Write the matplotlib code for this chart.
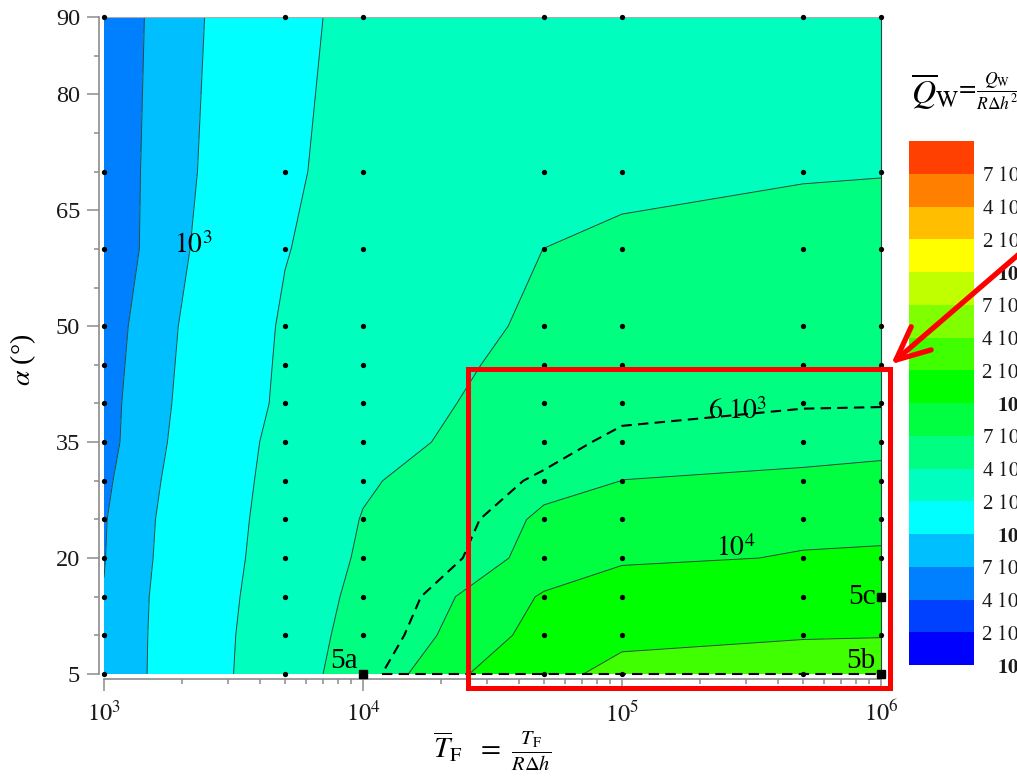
import matplotlib
matplotlib.use('Agg')
import matplotlib.pyplot as plt
from matplotlib.patches import Rectangle, FancyArrowPatch
import numpy as np

plt.rcParams['font.family'] = ['Liberation Serif', 'DejaVu Serif']
plt.rcParams['mathtext.fontset'] = 'stix'

# run grid: dimensionless fire duration and inclination
t_fire = np.array([1e3, 5e3, 1e4, 5e4, 1e5, 5e5, 1e6])
alpha = np.array([5, 10, 15, 20, 25, 30, 35, 40, 45, 50, 60, 70, 90])

# dimensionless wall heat Q_W / (R dh^2), one row per angle
q_wall = np.array([
    [708, 3020, 5370, 15500, 25700, 26900, 27500],   # 5
    [708, 2950, 4940, 11600, 16600, 19300, 19600],   # 10
    [708, 2820, 4630, 10400, 14800, 16600, 17000],   # 15
    [692, 2690, 4300, 7870, 9120, 10300, 10500],     # 20
    [684, 2600, 4090, 7410, 8130, 8910, 9020],       # 25
    [655, 2510, 3780, 6370, 7010, 7130, 7180],       # 30
    [621, 2420, 3430, 5150, 6610, 6760, 6840],       # 35
    [617, 2240, 3550, 4470, 5250, 5890, 5920],       # 40
    [603, 2190, 3390, 4370, 5010, 5500, 5620],       # 45
    [589, 2140, 3160, 4240, 4790, 5250, 5370],       # 50
    [546, 1950, 2690, 4010, 4580, 4900, 5010],       # 60
    [557, 1730, 2840, 3090, 3390, 3850, 3920],       # 70
    [551, 1610, 2510, 2820, 3020, 3160, 3310],       # 90
])

levels = [1e2, 2e2, 4e2, 7e2, 1e3, 2e3, 4e3, 7e3, 1e4, 2e4, 4e4, 7e4,
          1e5, 2e5, 4e5, 7e5, 1e6]
band_colors = ['#0000FF', '#0040FF', '#0080FF', '#00BFFF', '#00FFFF', '#00FFBF',
               '#00FF80', '#00FF40', '#00FF00', '#40FF00', '#80FF00', '#BFFF00',
               '#FFFF00', '#FFBF00', '#FF8000', '#FF4000']
q_dashed = 6e3

# labelled cases
cases = ['5a', '5b', '5c']
case_t = [1e4, 1e6, 1e6]
case_alpha = [5, 5, 15]

# inline contour labels
line_labels = [r'$10^{3}$', r'$6\ 10^{3}$', r'$10^{4}$']
line_label_t = [2.22e3, 2.8e5, 2.75e5]
line_label_alpha = [60.4, 39.0, 21.2]

x_log = np.log10(t_fire)
z = np.log10(q_wall)
lv = np.log10(levels)

fig = plt.figure(figsize=(10.17, 7.77), dpi=100)
ax = fig.add_axes([104 / 1017, 103 / 777, 777 / 1017, 657 / 777])

cf = ax.contourf(x_log, alpha, z, levels=lv, colors=band_colors)
ax.contour(x_log, alpha, z, levels=lv, colors='#2b4545', linewidths=0.7)
dashed = ax.contour(x_log, alpha, z, levels=[np.log10(q_dashed)], colors='k',
                    linewidths=1.5, linestyles=[(0, (5, 3))])
# the 6e3 line carries on along the lowest angle
pts = np.vstack(dashed.allsegs[0])
x_start = pts[np.argmin(pts[:, 1]), 0]
ax.plot([x_start, x_log[-1]], [alpha[0], alpha[0]], color='k', lw=1.5,
        ls=(0, (5, 3)), clip_on=False, zorder=4)

# computed points
xx, yy = np.meshgrid(x_log, alpha)
ax.plot(xx.ravel(), yy.ravel(), 'o', color='k', ms=3.8, mec='none',
        clip_on=False, zorder=5)

for name, t, a in zip(cases, case_t, case_alpha):
    ax.plot(np.log10(t), a, 's', color='k', ms=5.5, clip_on=False, zorder=6)
    if a == alpha[0]:
        ax.annotate(name, (np.log10(t), a), xytext=(-4, 0),
                    textcoords='offset points', ha='right', va='bottom',
                    fontsize=21, zorder=6)
    else:
        ax.annotate(name, (np.log10(t), a), xytext=(-4, 0),
                    textcoords='offset points', ha='right', va='center',
                    fontsize=21, zorder=6)

for s, t, a in zip(line_labels, line_label_t, line_label_alpha):
    ax.text(np.log10(t), a, s, fontsize=20, ha='center', va='center', zorder=6)

ax.set_xlim(3, 6)
ax.set_ylim(5, 90)
decades = [1e3, 1e4, 1e5, 1e6]
ax.set_xticks(np.log10(decades))
ax.set_xticklabels([r'$10^{%d}$' % round(np.log10(d)) for d in decades])
ax.set_xticks(np.log10([k * 10.0 ** n for n in range(3, 6) for k in range(2, 10)]),
              minor=True)
ax.set_yticks([5, 20, 35, 50, 65, 80, 90])
ax.set_yticks([10, 15, 25, 30, 40, 45, 55, 60, 70, 75, 85], minor=True)

for side in ['left', 'bottom']:
    ax.spines[side].set_position(('outward', 3.6))
    ax.spines[side].set_color('#8c8c8c')
    ax.spines[side].set_linewidth(1.2)
ax.spines['top'].set_color('#aaaaaa')
ax.spines['top'].set_linewidth(0.8)
ax.spines['right'].set_color('#2b4545')
ax.spines['right'].set_linewidth(0.8)
ax.tick_params(which='both', direction='out', color='#8c8c8c', width=1.1,
               labelsize=17.5, labelcolor='#1a1a1a')
ax.tick_params(which='major', length=8.6, pad=5)
ax.tick_params(which='minor', length=3.6)
ax.tick_params(axis='x', which='major', pad=7)

ax.set_ylabel(r'$\alpha\ $(°)', fontsize=20)
ax.yaxis.set_label_coords(-0.085, 0.478)
ax.set_xlabel(r'$\overline{T}_{\mathrm{F}}\ \ =\ \frac{T_{\mathrm{F}}}{R\Delta h}$',
              fontsize=21, va='center')
ax.xaxis.set_label_coords(0.5, -0.118)

# colour scale
cax = fig.add_axes([909 / 1017, 112 / 777, 65 / 1017, 524 / 777])
cb = fig.colorbar(cf, cax=cax, ticks=lv[:-1])
cb.outline.set_visible(False)
tick_text = []
for v in levels[:-1]:
    e = int(np.floor(np.log10(v) + 1e-9))
    m = round(v / 10 ** e)
    if m == 1:
        tick_text.append(r'$\mathbf{10^{%d}}$' % e)
    else:
        tick_text.append(r'%d $10^{%d}$' % (m, e))
cb.set_ticklabels(tick_text)
cax.tick_params(length=0, pad=38, labelsize=15, labelcolor='#1a1a1a')
for lbl in cax.get_yticklabels():
    lbl.set_horizontalalignment('right')

# colour scale title: large symbol, smaller "= fraction"
fig.text(911 / 1017, 1 - 91 / 777, r'$\overline{Q}_{\mathrm{W}}$',
         fontsize=24, ha='left', va='center')
fig.text(955 / 1017, 1 - 91 / 777, r'$=\!\frac{Q_{\mathrm{W}}}{R\Delta h^{2}}$',
         fontsize=18, ha='left', va='center')

# zoomed region and pointer
ax.add_patch(Rectangle((np.log10(2.55e4), 3.2), np.log10(1.08e6) - np.log10(2.55e4),
                       44.5 - 3.2, fill=False, ec='#ff0000', lw=3.6,
                       clip_on=False, zorder=7))
fig.patches.append(FancyArrowPatch(
    (1040, 777 - 236), (889, 777 - 366), transform=None,
    arrowstyle='->,head_length=1.2,head_width=0.55', mutation_scale=20,
    color='#ff0000', lw=3.8))

fig.savefig('out.png', dpi=100)
